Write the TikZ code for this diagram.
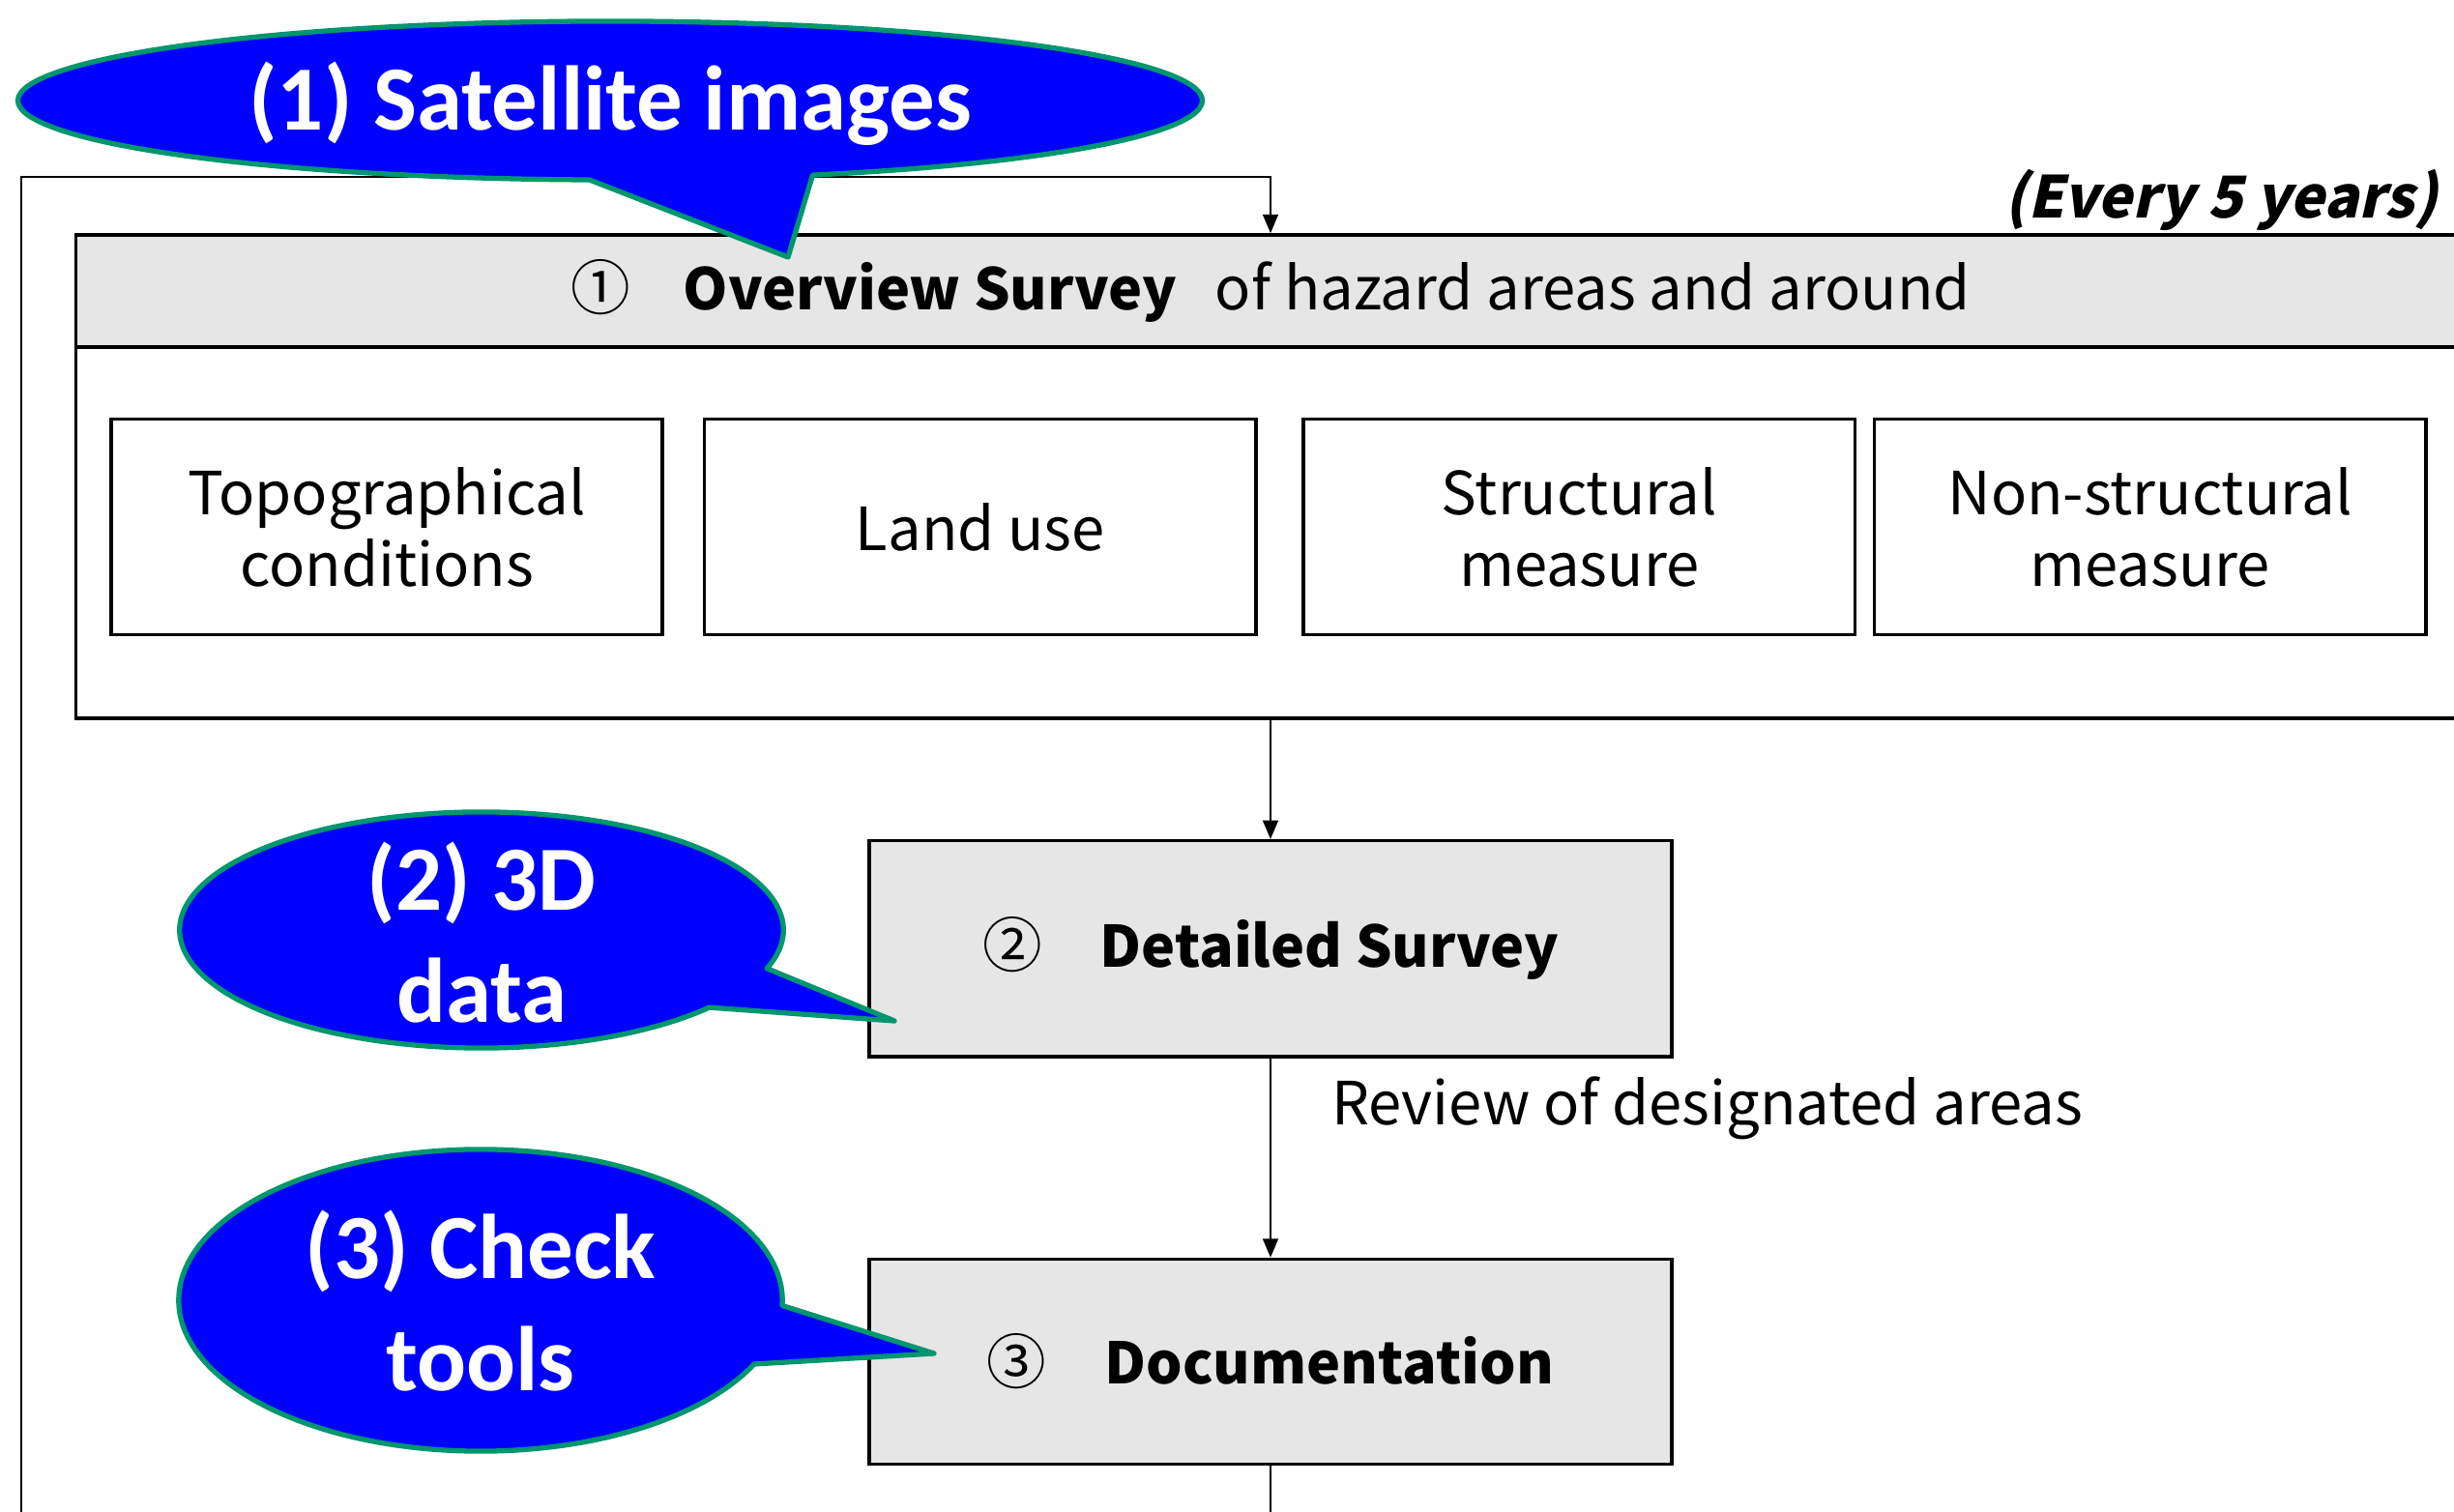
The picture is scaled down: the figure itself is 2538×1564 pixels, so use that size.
\documentclass[tikz,border=0pt]{standalone}
\usepackage{fontspec}
\setmainfont{Noto Sans CJK JP}
\newfontfamily\slantedfont{Noto Sans CJK JP}[FakeSlant=0.22]
\newfontfamily\calloutfont{Carlito}
\usetikzlibrary{positioning, arrows.meta, calc}
\definecolor{calloutblue}{RGB}{0,0,255}
\definecolor{calloutrim}{RGB}{0,150,110}
\definecolor{stagegray}{RGB}{230,230,230}
\newcommand{\stagefont}{\fontsize{16.8}{20}\selectfont\bfseries}

\begin{document}
\begin{tikzpicture}[
    x=0.01cm, y=0.01cm,
    every node/.style={font=\fontsize{17.5}{21}\selectfont},
    frame/.style={rectangle, draw=black, line width=1pt, inner sep=0pt, align=center},
    stage/.style={frame, fill=stagegray, minimum width=8.30cm, minimum height=2.23cm},
    item/.style={frame, fill=white, minimum width=5.70cm, minimum height=2.23cm},
    arr/.style={-{Triangle[length=5.5pt, width=4.5pt]}, line width=0.6pt},
    callout/.style={fill=calloutblue, draw=calloutrim, line width=1.5pt, line join=round},
    callouttext/.style={font=\calloutfont\bfseries\fontsize{27}{33}\selectfont,
                        text=white, align=center, inner sep=0pt},
]
    \useasboundingbox (0,0) rectangle (2538,-1564);
    \clip (0,0) rectangle (2538,-1564);

    \node[frame, fill=white, minimum width=24.70cm, minimum height=5.00cm] (ovr) at (1314,-493) {};
    \node[frame, fill=stagegray, minimum width=24.70cm, minimum height=1.16cm] (ovrhead) at (1314,-301)
        {①\hspace{0.55cm}{\stagefont Overview Survey}\hspace{0.4cm}of hazard areas and around};
    \node[anchor=east, inner sep=0pt, font=\slantedfont\fontsize{17}{21}\selectfont\bfseries] (every)
        at (2522,-207) {(Every 5 years)};

    \node[item] (topo) at (400,-545) {Topographical\\conditions};
    \node[item, right=0.40cm of topo] (land) {Land use};
    \node[item, right=0.455cm of land] (struct) {Structural\\measure};
    \node[item, right=0.165cm of struct] (nonstruct) {Non-structural\\measure};

    \node[stage, below=1.23cm of ovr] (det) {②\hspace{0.6cm}{\stagefont Detailed Survey}};
    \node[stage, below=2.06cm of det, minimum height=2.12cm] (doc) {③\hspace{0.6cm}{\stagefont Documentation}};

    \coordinate (loopbottom) at (22,-1620);
    \coordinate (looptop) at (22,-183);

    \draw[arr] (ovr) -- (det);
    \draw[arr] (det) -- node[pos=0.25, anchor=west, xshift=0.62cm, inner sep=0pt] (review)
        {Review of designated areas} (doc);
    \draw[arr] (doc.south) |- (loopbottom) -- (looptop) -| (ovrhead.north);

    \coordinate (sat) at (631,-104);
    \coordinate (sattip) at (815,-266);
    \draw[callout] ($(sat)+(-70:6.12cm and 0.82cm)$)
        arc[start angle=-70, end angle=268, x radius=6.12cm, y radius=0.82cm] -- (sattip) -- cycle;
    \node[callouttext] (sattext) at (631,-107) {(1) Satellite images};

    \coordinate (threed) at (498,-962);
    \coordinate (threedtip) at (925,-1056);
    \draw[callout] ($(threed)+(-19:3.12cm and 1.22cm)$)
        arc[start angle=-19, end angle=319, x radius=3.12cm, y radius=1.22cm] -- (threedtip) -- cycle;
    \node[callouttext] (threedtext) at (498,-965) {(2) 3D\\data};

    \coordinate (check) at (497,-1345);
    \coordinate (checktip) at (966,-1400);
    \draw[callout] ($(check)+(-2:3.12cm and 1.56cm)$)
        arc[start angle=-2, end angle=335, x radius=3.12cm, y radius=1.56cm] -- (checktip) -- cycle;
    \node[callouttext] (checktext) at (497,-1346) {(3) Check\\tools};
\end{tikzpicture}
\end{document}
